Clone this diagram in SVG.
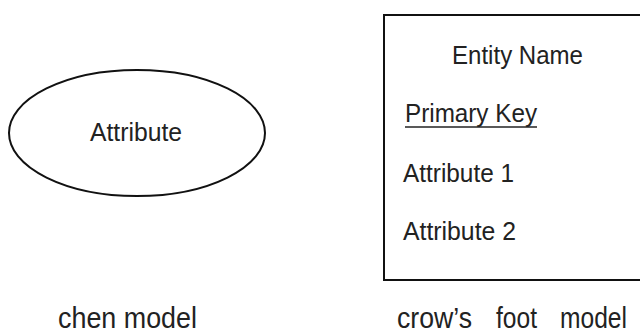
<svg xmlns="http://www.w3.org/2000/svg" width="640" height="334" viewBox="0 0 640 334">
  <style>
    .shape { fill: #ffffff; stroke: #111111; stroke-width: 2; }
    .label { font-family: "Liberation Sans", Arial, sans-serif; font-size: 26px; fill: #222222; }
    .caption { font-family: "Liberation Sans", Arial, sans-serif; font-size: 29px; fill: #222222; }
  </style>
  <rect width="640" height="334" fill="#ffffff"/>

  <!-- Chen notation: attribute as an ellipse -->
  <g id="chen-attribute">
    <ellipse class="shape" cx="137" cy="133" rx="128" ry="63"/>
    <text class="label" x="90" y="141" textLength="92" lengthAdjust="spacingAndGlyphs">Attribute</text>
  </g>

  <!-- Crow's foot notation: entity box with attribute list -->
  <g id="crowsfoot-entity">
    <rect class="shape" x="384" y="15" width="270" height="265"/>
    <text class="label" x="452" y="64" textLength="131" lengthAdjust="spacingAndGlyphs">Entity Name</text>
    <text class="label" x="405" y="122" textLength="132" lengthAdjust="spacingAndGlyphs">Primary Key</text>
    <line x1="405" y1="127" x2="537" y2="127" stroke="#222222" stroke-width="1.5"/>
    <text class="label" x="403" y="182" textLength="111" lengthAdjust="spacingAndGlyphs">Attribute 1</text>
    <text class="label" x="403" y="240" textLength="113" lengthAdjust="spacingAndGlyphs">Attribute 2</text>
  </g>

  <!-- Captions -->
  <g id="captions">
    <text class="caption" x="58" y="328" textLength="139" lengthAdjust="spacingAndGlyphs">chen model</text>
    <text class="caption" x="397" y="328" textLength="75" lengthAdjust="spacingAndGlyphs">crow’s</text>
    <text class="caption" x="496" y="328" textLength="41" lengthAdjust="spacingAndGlyphs">foot</text>
    <text class="caption" x="560" y="328" textLength="67" lengthAdjust="spacingAndGlyphs">model</text>
  </g>
</svg>
